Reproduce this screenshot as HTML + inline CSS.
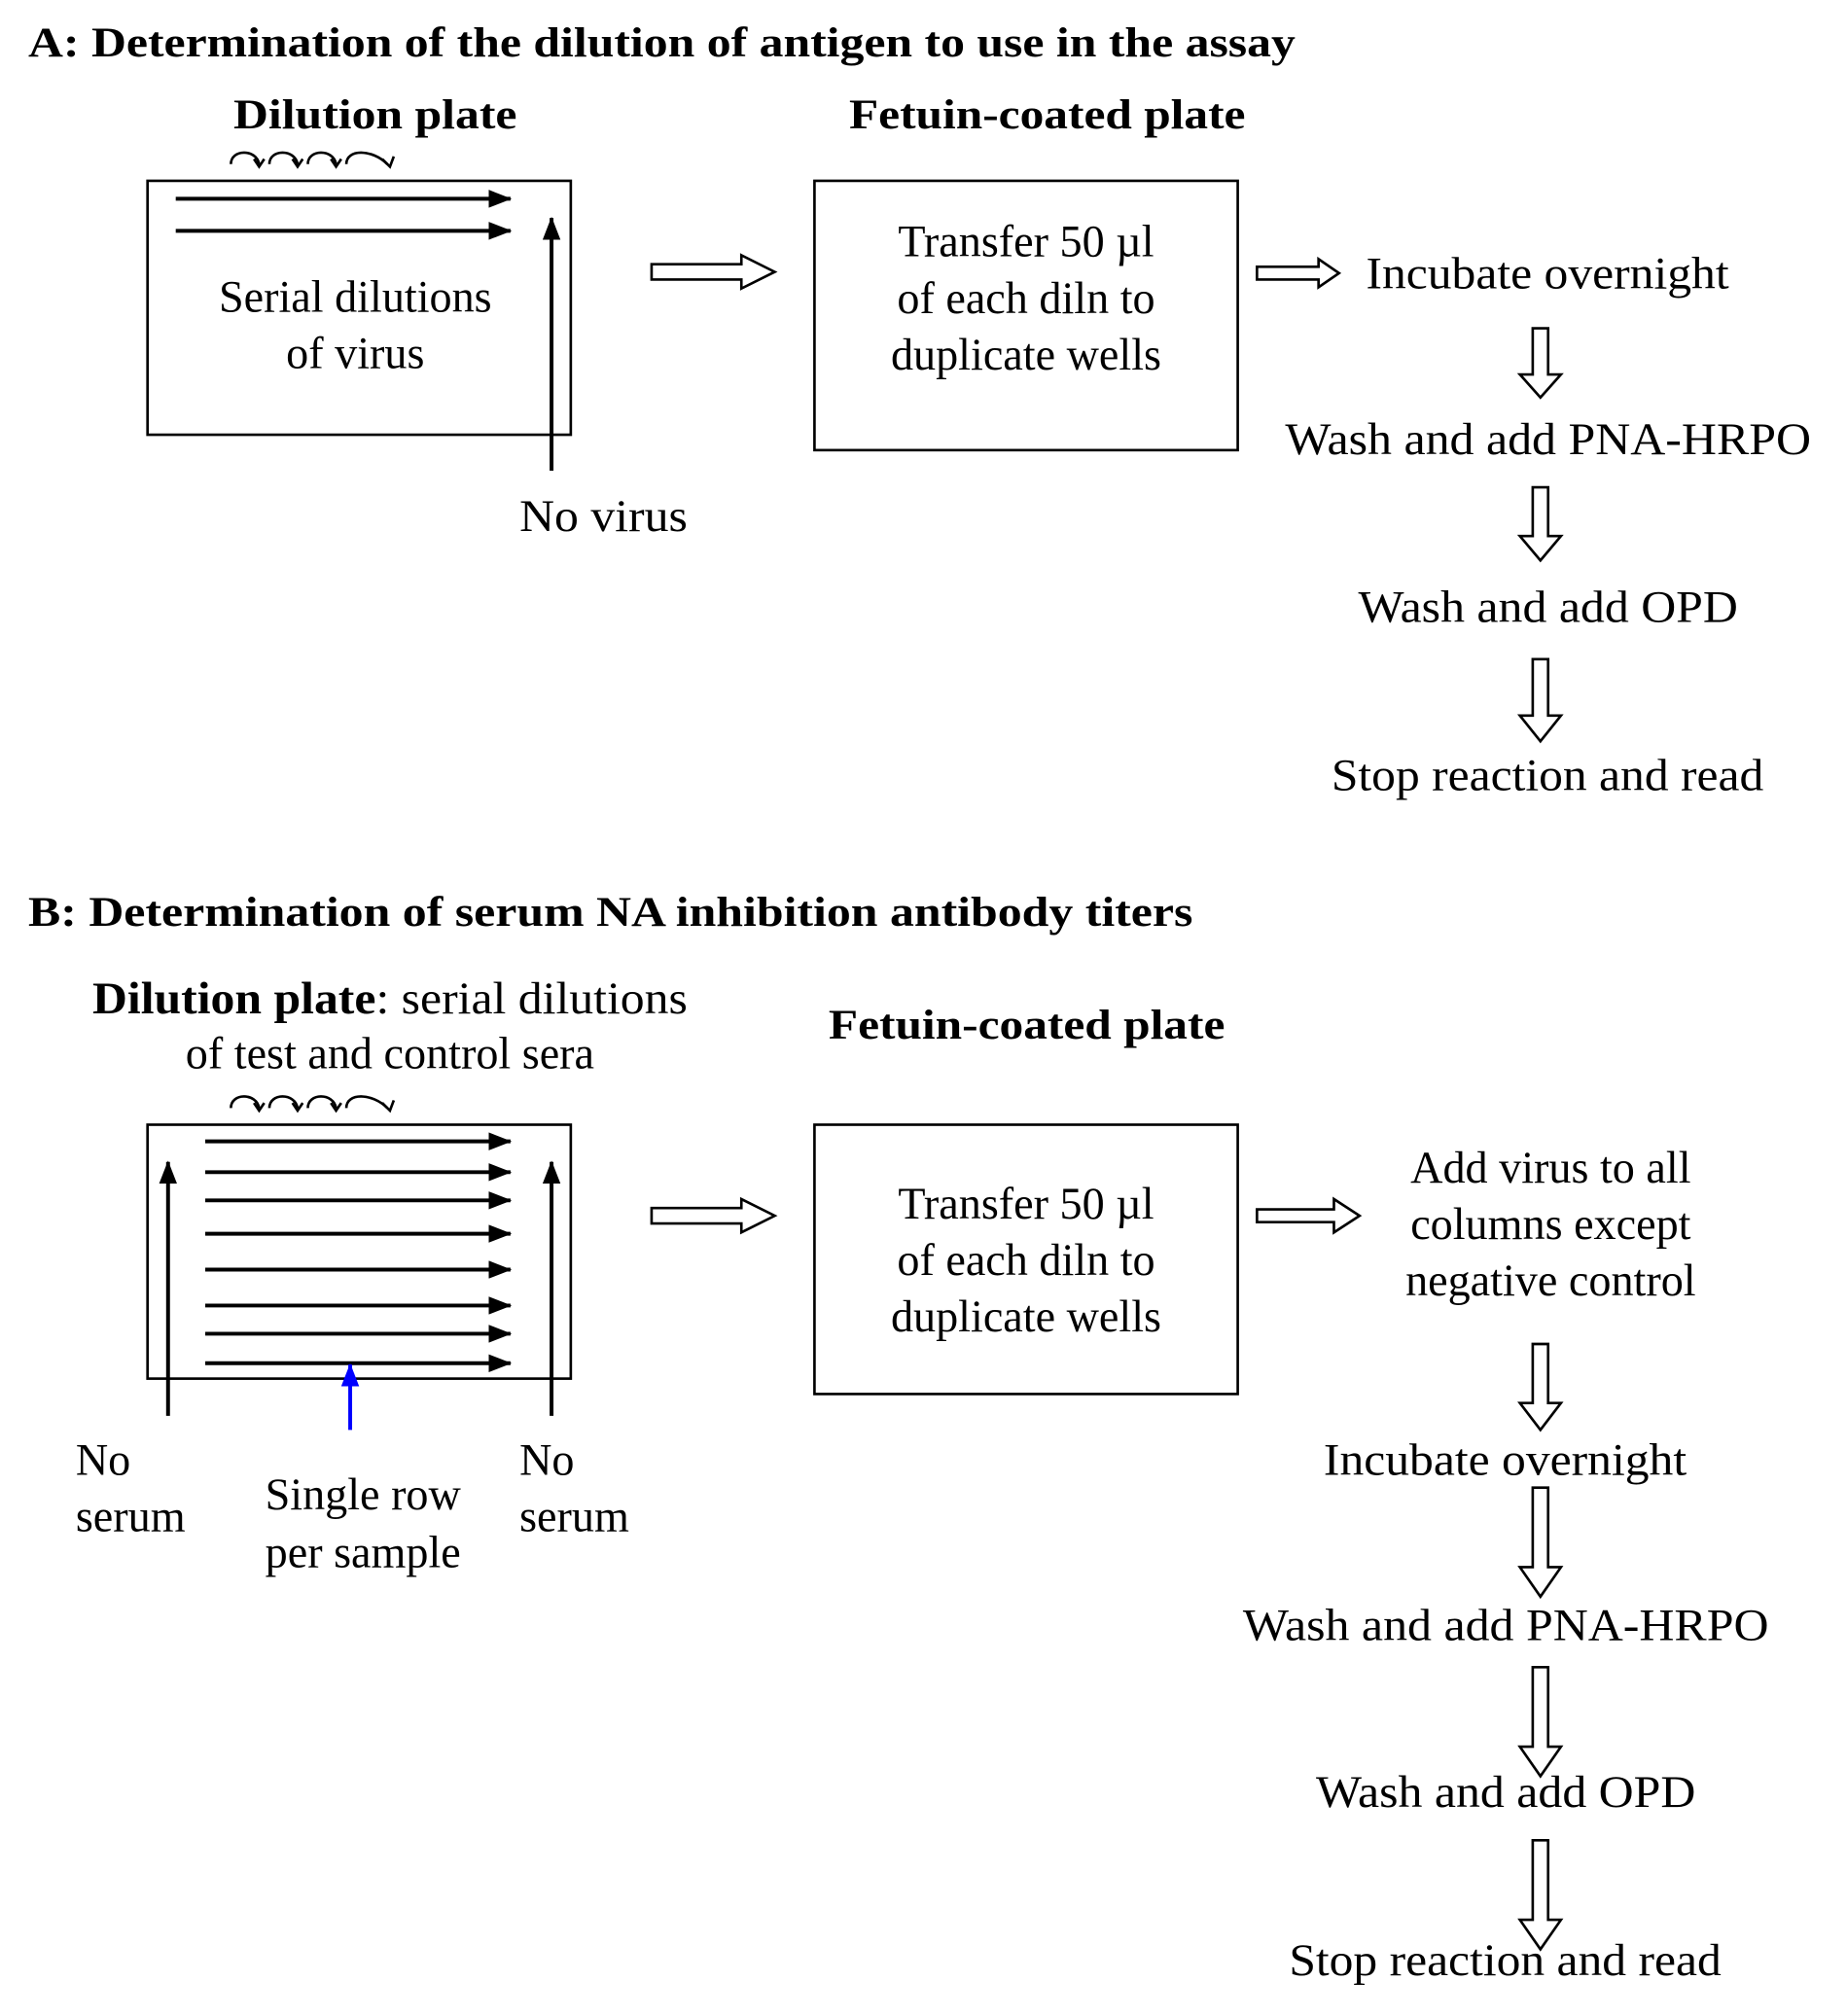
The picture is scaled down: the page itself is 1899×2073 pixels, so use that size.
<!DOCTYPE html>
<html><head><meta charset="utf-8"><style>
html,body{margin:0;padding:0;background:#fff;}
svg{display:block;}
text{font-family:"Liberation Serif",serif;fill:#000;}
.b{font-weight:bold;font-size:33px;}
.r{font-size:35px;}
</style></head><body>
<svg width="1899" height="2073" viewBox="0 0 1440 1572" xmlns="http://www.w3.org/2000/svg">
<defs>
<marker id="ah" markerWidth="10" markerHeight="10" refX="9" refY="5" orient="auto" markerUnits="userSpaceOnUse" viewBox="0 0 10 10">
<path d="M0,0 L10,5 L0,10 z" fill="#000"/></marker>
<marker id="ahl" markerWidth="18" markerHeight="14" refX="17" refY="7" orient="auto" markerUnits="userSpaceOnUse">
<path d="M0,0 L18,7 L0,14 z" fill="#000"/></marker>
<marker id="ahb" markerWidth="18" markerHeight="14" refX="17" refY="7" orient="auto" markerUnits="userSpaceOnUse">
<path d="M0,0 L18,7 L0,14 z" fill="#0000ff"/></marker>
<g id="curly" fill="none" stroke="#000" stroke-width="2">
<path d="M0,12 C0,0 20,0 22,12"/><path d="M18,8 L22,14 L26,8"/>
<path d="M30,12 C30,0 50,0 52,12"/><path d="M48,8 L52,14 L56,8"/>
<path d="M60,12 C60,0 80,0 82,12"/><path d="M78,8 L82,14 L86,8"/>
<path d="M90,12 C90,0 110,0 122,12"/><path d="M118,8 L124,14 L127,6"/>
</g>
<path id="harr" d="M0,-6 L70,-6 L70,-13 L96,0 L70,13 L70,6 L0,6 z" fill="#fff" stroke="#000" stroke-width="2"/>
<path id="sharr" d="M0,-5 L48,-5 L48,-11 L64,0 L48,11 L48,5 L0,5 z" fill="#fff" stroke="#000" stroke-width="2"/>
</defs>

<!-- A -->
<text class="b" x="22" y="44" textLength="988" lengthAdjust="spacingAndGlyphs">A: Determination of the dilution of antigen to use in the assay</text>
<text class="b" x="182" y="100" textLength="221" lengthAdjust="spacingAndGlyphs">Dilution plate</text>
<use href="#curly" x="180" y="116"/>
<rect x="115" y="141" width="330" height="198" fill="none" stroke="#000" stroke-width="2"/>
<line x1="137" y1="155" x2="398" y2="155" stroke="#000" stroke-width="3" marker-end="url(#ahl)"/>
<line x1="137" y1="180" x2="398" y2="180" stroke="#000" stroke-width="3" marker-end="url(#ahl)"/>
<line x1="430" y1="367" x2="430" y2="170" stroke="#000" stroke-width="3" marker-end="url(#ahl)"/>
<text class="r" x="277" y="243" text-anchor="middle">Serial dilutions</text>
<text class="r" x="277" y="287" text-anchor="middle">of virus</text>
<text class="r" x="405" y="414" textLength="131" lengthAdjust="spacingAndGlyphs">No virus</text>
<use href="#harr" x="508" y="212"/>
<text class="b" x="662" y="100" textLength="309" lengthAdjust="spacingAndGlyphs">Fetuin-coated plate</text>
<rect x="635" y="141" width="330" height="210" fill="none" stroke="#000" stroke-width="2"/>
<text class="r" x="800" y="200" text-anchor="middle">Transfer 50 µl</text>
<text class="r" x="800" y="244" text-anchor="middle">of each diln to</text>
<text class="r" x="800" y="288" text-anchor="middle">duplicate wells</text>
<use href="#sharr" x="980" y="213"/>
<text class="r" x="1065" y="225" textLength="283" lengthAdjust="spacingAndGlyphs">Incubate overnight</text>
<g fill="#fff" stroke="#000" stroke-width="2">
<path d="M1195,256 L1207,256 L1207,292 L1217,292 L1201,310 L1185,292 L1195,292 z"/>
<path d="M1195,380 L1207,380 L1207,418 L1217,418 L1201,437 L1185,418 L1195,418 z"/>
<path d="M1195,514 L1207,514 L1207,558 L1217,558 L1201,578 L1185,558 L1195,558 z"/>
</g>
<text class="r" x="1002" y="354" textLength="410" lengthAdjust="spacingAndGlyphs">Wash and add PNA-HRPO</text>
<text class="r" x="1059" y="485" textLength="296" lengthAdjust="spacingAndGlyphs">Wash and add OPD</text>
<text class="r" x="1038" y="616" textLength="337" lengthAdjust="spacingAndGlyphs">Stop reaction and read</text>

<!-- B -->
<text class="b" x="22" y="722" textLength="908" lengthAdjust="spacingAndGlyphs">B: Determination of serum NA inhibition antibody titers</text>
<text x="72" y="790" class="r" textLength="464" lengthAdjust="spacingAndGlyphs"><tspan font-weight="bold">Dilution plate</tspan>: serial dilutions</text>
<text class="r" x="304" y="833" text-anchor="middle">of test and control sera</text>
<text class="b" x="646" y="810" textLength="309" lengthAdjust="spacingAndGlyphs">Fetuin-coated plate</text>
<use href="#curly" x="180" y="852"/>
<rect x="115" y="877" width="330" height="198" fill="none" stroke="#000" stroke-width="2"/>
<g stroke="#000" stroke-width="3" marker-end="url(#ahl)">
<line x1="160" y1="890" x2="398" y2="890"/>
<line x1="160" y1="914" x2="398" y2="914"/>
<line x1="160" y1="936" x2="398" y2="936"/>
<line x1="160" y1="962" x2="398" y2="962"/>
<line x1="160" y1="990" x2="398" y2="990"/>
<line x1="160" y1="1018" x2="398" y2="1018"/>
<line x1="160" y1="1040" x2="398" y2="1040"/>
<line x1="160" y1="1063" x2="398" y2="1063"/>
<line x1="131" y1="1104" x2="131" y2="906"/>
<line x1="430" y1="1104" x2="430" y2="906"/>
</g>
<line x1="273" y1="1115" x2="273" y2="1064" stroke="#0000ff" stroke-width="3" marker-end="url(#ahb)"/>
<text class="r" x="59" y="1150">No</text>
<text class="r" x="59" y="1194">serum</text>
<text class="r" x="283" y="1177" text-anchor="middle">Single row</text>
<text class="r" x="283" y="1222" text-anchor="middle">per sample</text>
<text class="r" x="405" y="1150">No</text>
<text class="r" x="405" y="1194">serum</text>
<use href="#harr" x="508" y="948"/>
<rect x="635" y="877" width="330" height="210" fill="none" stroke="#000" stroke-width="2"/>
<text class="r" x="800" y="950" text-anchor="middle">Transfer 50 µl</text>
<text class="r" x="800" y="994" text-anchor="middle">of each diln to</text>
<text class="r" x="800" y="1038" text-anchor="middle">duplicate wells</text>
<path d="M980,943 L1040,943 L1040,935 L1060,948 L1040,961 L1040,953 L980,953 z" fill="#fff" stroke="#000" stroke-width="2"/>
<text class="r" x="1209" y="922" text-anchor="middle">Add virus to all</text>
<text class="r" x="1209" y="966" text-anchor="middle">columns except</text>
<text class="r" x="1209" y="1010" text-anchor="middle">negative control</text>
<g fill="#fff" stroke="#000" stroke-width="2">
<path d="M1195,1048 L1207,1048 L1207,1094 L1217,1094 L1201,1115 L1185,1094 L1195,1094 z"/>
<path d="M1195,1160 L1207,1160 L1207,1222 L1217,1222 L1201,1245 L1185,1222 L1195,1222 z"/>
<path d="M1195,1300 L1207,1300 L1207,1362 L1217,1362 L1201,1385 L1185,1362 L1195,1362 z"/>
<path d="M1195,1435 L1207,1435 L1207,1497 L1217,1497 L1201,1520 L1185,1497 L1195,1497 z"/>
</g>
<text class="r" x="1032" y="1150" textLength="283" lengthAdjust="spacingAndGlyphs">Incubate overnight</text>
<text class="r" x="969" y="1279" textLength="410" lengthAdjust="spacingAndGlyphs">Wash and add PNA-HRPO</text>
<text class="r" x="1026" y="1409" textLength="296" lengthAdjust="spacingAndGlyphs">Wash and add OPD</text>
<text class="r" x="1005" y="1540" textLength="337" lengthAdjust="spacingAndGlyphs">Stop reaction and read</text>
</svg>
</body></html>
